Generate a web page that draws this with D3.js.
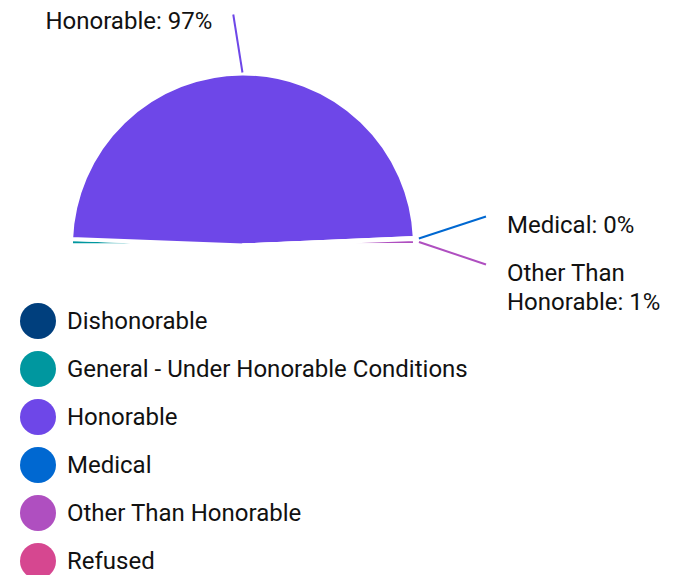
<!DOCTYPE html>
<html>
<head>
<meta charset="utf-8">
<script src="https://cdn.jsdelivr.net/npm/d3@7"></script>
<style>
  html, body { margin: 0; padding: 0; background: #fff; }
  body { width: 690px; height: 575px; overflow: hidden; font-family: Roboto, "Noto Sans", sans-serif; }
  text { font-family: Roboto, "Noto Sans", sans-serif; fill: #111; }
</style>
</head>
<body>
<div id="chart"></div>
<script>
/* === Discharge type half-pie === */

const categories = ["Dishonorable", "General - Under Honorable Conditions", "Honorable", "Medical", "Other Than Honorable", "Refused"];
const shares = [0.1, 1.1, 97.4, 0.2, 1.1, 0.1];
const colors = ["#003f7d", "#00979f", "#6e47e8", "#0068d1", "#af4fc0", "#d64790"];
// only these slices carry an outside label in the original
const labeled = ["Honorable", "Medical", "Other Than Honorable"];

function initChart() {
  const width = 690, height = 575;
  const cx = 243, cy = 245.5, r = 172;

  const svg = d3.select("#chart").append("svg")
    .attr("width", width)
    .attr("height", height);

  const data = categories.map((name, i) => ({ name, value: shares[i], color: colors[i] }));
  const total = d3.sum(shares);

  // Half pie: left horizontal -> over the top -> right horizontal
  const pie = d3.pie()
    .value(d => d.value)
    .sort(null)
    .startAngle(-Math.PI / 2)
    .endAngle(Math.PI / 2);

  const arcs = pie(data);
  const arc = d3.arc().innerRadius(0).outerRadius(r);

  const g = svg.append("g").attr("transform", `translate(${cx},${cy})`);

  g.selectAll("path.slice")
    .data(arcs)
    .join("path")
      .attr("class", "slice")
      .attr("d", arc)
      .attr("fill", d => d.data.color)
      .attr("stroke", "#fff")
      .attr("stroke-width", 4)
      .attr("stroke-linejoin", "round");

  // --- Labels with ticks ---
  const pct = v => `${Math.round(v / total * 100)}%`;
  const lineH = 29;

  const lab = arcs.filter(d => labeled.includes(d.data.name)).map(d => {
    const a = (d.startAngle + d.endAngle) / 2;
    return { d, a, sx: Math.sin(a) * (r + 1), sy: -Math.cos(a) * (r + 1) };
  });

  // Right-side labels stack around the horizontal
  const right = lab.filter(l => l.a > Math.PI / 3);
  const spread = 48;
  right.forEach((l, i) => {
    l.sx = Math.sin(l.a) * (r + 4);
    l.ex = r + 71;
    l.ey = -5 + (i - (right.length - 1) / 2) * spread;
    l.anchor = "start";
    l.ty = l.ey + 8;
    l.lines = l.d.data.name === "Other Than Honorable"
      ? ["Other Than", `Honorable: ${pct(l.d.data.value)}`]
      : [`${l.d.data.name}: ${pct(l.d.data.value)}`];
  });

  // Top label
  lab.filter(l => l.a <= Math.PI / 3).forEach(l => {
    l.ex = Math.sin(l.a) * (r + 59) - 9;
    l.ey = -Math.cos(l.a) * (r + 59);
    l.anchor = l.a < 0.05 ? "end" : "start";
    l.ty = l.ey + 6;
    l.lines = [`${l.d.data.name}: ${pct(l.d.data.value)}`];
  });

  const lg = g.append("g");
  lg.selectAll("line")
    .data(lab)
    .join("line")
      .attr("x1", l => l.sx).attr("y1", l => l.sy)
      .attr("x2", l => l.ex).attr("y2", l => l.ey)
      .attr("stroke", l => l.d.data.color)
      .attr("stroke-width", 2);

  lab.forEach(l => {
    const tx = l.anchor === "end" ? l.ex - 21 : l.ex + 21;
    const t = lg.append("text")
      .attr("x", tx)
      .attr("y", l.ty)
      .attr("text-anchor", l.anchor)
      .style("font-size", "24px");
    l.lines.forEach((s, i) => {
      t.append("tspan")
        .attr("x", tx)
        .attr("dy", i === 0 ? "0.35em" : lineH)
        .text(s);
    });
  });

  // --- Legend ---
  const legY = d3.scalePoint().domain(categories).range([321, 561]);
  const leg = svg.append("g");
  const item = leg.selectAll("g")
    .data(data)
    .join("g")
      .attr("transform", d => `translate(38,${legY(d.name)})`);

  item.append("circle")
    .attr("r", 18)
    .attr("fill", d => d.color);

  item.append("text")
    .attr("x", 29)
    .attr("dy", "0.35em")
    .style("font-size", "24px")
    .text(d => d.name);
}

if (document.readyState === "loading") {
  document.addEventListener("DOMContentLoaded", initChart);
} else {
  initChart();
}
</script>
</body>
</html>
